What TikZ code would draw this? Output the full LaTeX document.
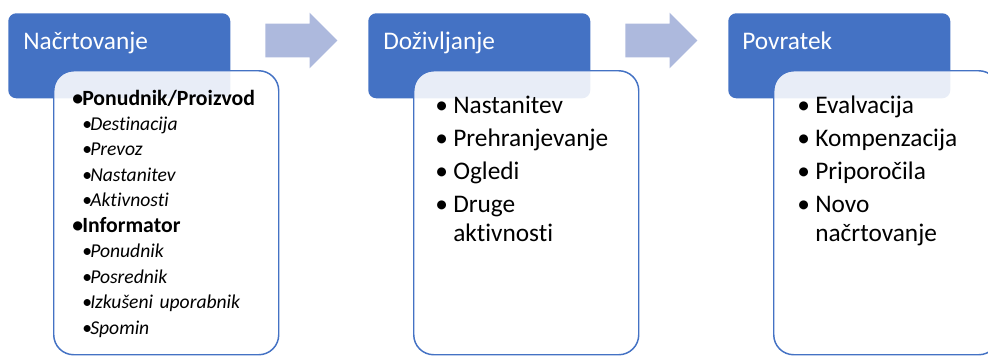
\documentclass[tikz,border=0pt]{standalone}
\usepackage{fontspec}
\setmainfont{Carlito}[Ligatures=NoCommon]
\usetikzlibrary{shapes.arrows, positioning}
\definecolor{hdblue}{RGB}{68,114,196}
\definecolor{arblue}{RGB}{173,185,221}
\newcommand{\pbul}{\makebox[7.5pt][l]{\textbullet}}
\newcommand{\sbul}{\hspace*{7.5pt}\makebox[6pt][l]{\textbullet}}
\newcommand{\ibul}{\makebox[13.5pt][l]{\textbullet}}
\newcommand{\ihang}{\hspace*{13.5pt}}

\begin{document}
\begin{tikzpicture}[x=0.75pt, y=-0.75pt,
  hdr/.style={fill=hdblue, rounded corners=6pt, inner sep=0pt,
              minimum width=166.5pt, minimum height=63.75pt, anchor=north west},
  ttl/.style={text=white, font=\fontsize{19}{23}\selectfont, inner sep=0pt, anchor=base west},
  card/.style={draw=hdblue, line width=1.1pt, fill=white, fill opacity=0.88,
               rounded corners=15pt, inner sep=0pt,
               minimum width=168.75pt, minimum height=213pt, anchor=north west},
  flow/.style={single arrow, fill=arblue, inner xsep=0pt, inner ysep=12.375pt,
               minimum width=0pt, minimum height=54pt,
               single arrow head extend=8.25pt, anchor=tail},
  lst/.style={align=left, inner sep=0pt, anchor=base west, text width=150pt}]
  \useasboundingbox (0,0) rectangle (988,355);

  % Stage 1: planning
  \node[hdr] (h1) at (8,13) {};
  \node[ttl] (t1) at (23,49) {Načrtovanje};
  \node[card] (c1) at (53,70) {};
  \node[lst, font=\fontsize{14.7}{19.1}\selectfont] (l1) at (72,105) {%
    {\fontsize{16.3}{19.1}\selectfont\bfseries\pbul Ponudnik/Proizvod}\\
    \sbul\textit{Destinacija}\\
    \sbul\textit{Prevoz}\\
    \sbul\textit{Nastanitev}\\
    \sbul\textit{Aktivnosti}\\
    {\fontsize{16.3}{19.1}\selectfont\bfseries\pbul Informator}\\
    \sbul\textit{Ponudnik}\\
    \sbul\textit{Posrednik}\\
    \sbul\textit{Izkušeni uporabnik}\\
    \sbul\textit{Spomin}};

  \node[flow] (a1) at (265,40.5) {};

  % Stage 2: experience
  \node[hdr] (h2) at (368,13) {};
  \node[ttl] (t2) at (383,49) {Doživljanje};
  \node[card] (c2) at (413,70) {};
  \node[lst, font=\fontsize{19}{21.75}\selectfont] (l2) at (435,113) {%
    \ibul Nastanitev\\[3pt]
    \ibul Prehranjevanje\\[3pt]
    \ibul Ogledi\\[3pt]
    \ibul Druge\\
    \ihang aktivnosti};

  \node[flow] (a2) at (625,40.5) {};

  % Stage 3: return
  \node[hdr] (h3) at (728,13) {};
  \node[ttl] (t3) at (742,49) {Povratek};
  \node[card] (c3) at (773,70) {};
  \node[lst, font=\fontsize{19}{21.75}\selectfont] (l3) at (797,113) {%
    \ibul Evalvacija\\[3pt]
    \ibul Kompenzacija\\[3pt]
    \ibul Priporočila\\[3pt]
    \ibul Novo\\
    \ihang načrtovanje};
\end{tikzpicture}
\end{document}
